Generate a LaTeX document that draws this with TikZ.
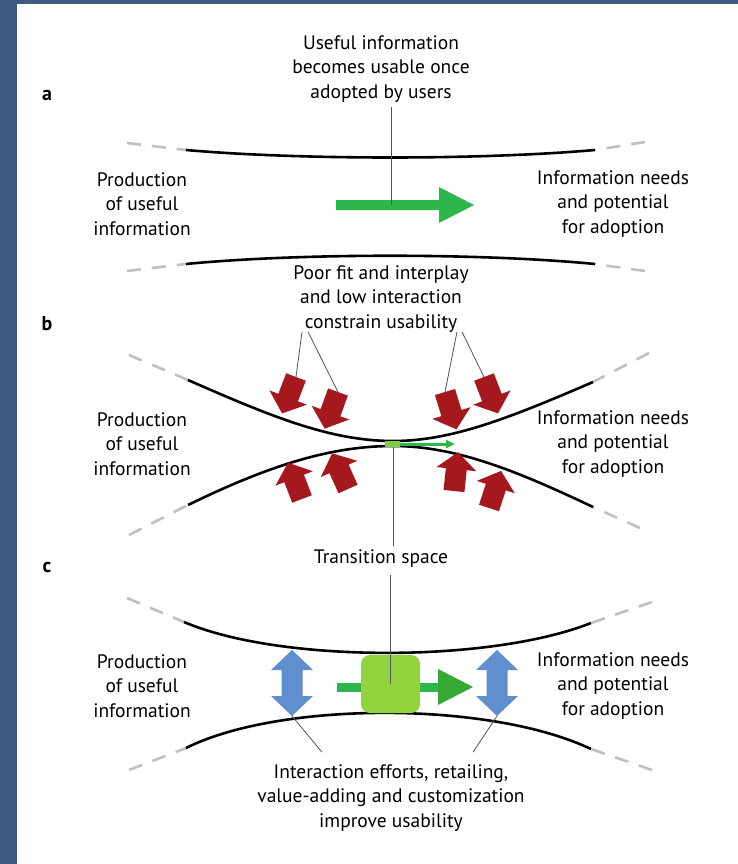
\documentclass[tikz,border=0pt]{standalone}
\usepackage{fontspec}
\setmainfont{PT Sans}
\usetikzlibrary{arrows.meta, positioning}

\definecolor{frameblue}{RGB}{62,90,128}
\definecolor{flowgreen}{RGB}{44,182,76}
\definecolor{headgreen}{RGB}{54,168,52}
\definecolor{boxgreen}{RGB}{146,212,64}
\definecolor{pressred}{RGB}{165,25,30}
\definecolor{effortblue}{RGB}{96,143,208}
\definecolor{dashgray}{RGB}{192,192,192}
\definecolor{pointgray}{RGB}{85,85,85}

\begin{document}
\begin{tikzpicture}[
    x=1pt, y=-1pt,
    font=\fontsize{19.5}{24.7}\selectfont,
    label/.style={align=center, inner sep=1pt},
    panel/.style={inner sep=0pt, font=\fontsize{20}{24}\selectfont\bfseries},
    wall/.style={draw=black, line width=2.6pt},
    fade/.style={draw=dashgray, line width=2.6pt, dash pattern=on 14pt off 11pt},
    pointer/.style={draw=pointgray, line width=0.8pt},
    squeeze/.style={fill=pressred},
    effort/.style={fill=effortblue},
    flow/.style={fill=flowgreen}
]

% frame
\fill[frameblue] (0,0) rectangle (738,864);
\fill[white] (17,4) rectangle (738,864);
\useasboundingbox (0,0) rectangle (738,864);

% ---------- a ----------
\node[panel] at (47,95) {a};
\node[label] (usefulinfo) at (381,69) {Useful information\\becomes usable once\\adopted by users};
\node[label] (prodA) at (142,204) {Production\\of useful\\information};
\node[label] (needsA) at (613,204) {Information needs\\and potential\\for adoption};

\draw[fade] (127,143) -- (186,150);
\draw[fade] (645,142) -- (595,150);
\draw[fade] (127,271) -- (186,264);
\draw[fade] (645,271) -- (595,264);
\draw[wall] (186,150) .. controls (300,160) and (480,160) .. (595,150);
\draw[wall] (186,264) .. controls (300,253) and (480,253) .. (595,264);

\coordinate (aflow) at (391,205);
\fill[flow] (336,200) -- (439,200) -- (439,187) -- (474,205)
    -- (439,223) -- (439,210) -- (336,210) -- cycle;
\draw[pointer, shorten <=3pt] (usefulinfo.south -| aflow) -- (aflow);

% ---------- b ----------
\node[panel] at (47,324) {b};
\node[label] (poorfit) at (381,299) {Poor fit and interplay\\and low interaction\\constrain usability};
\node[label] (prodB) at (142,444) {Production\\of useful\\information};
\node[label] (needsB) at (613,444) {Information needs\\and potential\\for adoption};
\node[label] (transition) at (381,559) {Transition space};

\draw[fade] (129,355) -- (188,380);
\draw[fade] (649,353) -- (593,382);
\draw[fade] (129,535) -- (188,505);
\draw[fade] (640,528) -- (593,507);
\draw[wall] (188,380) .. controls (270,416) and (330,441) .. (393,441)
    .. controls (450,441) and (505,420) .. (593,382);
\draw[wall] (188,505) .. controls (268,466) and (330,446) .. (393,446)
    .. controls (455,446) and (515,470) .. (593,507);

\coordinate (gap) at (393,443);
\draw[pointer, shorten >=3pt] (gap) -- (gap |- transition.north);
\fill[boxgreen!80!flowgreen] (385,441) rectangle (400,447);
\draw[flowgreen, line width=3pt, -{Triangle[length=9pt, width=8pt]}] (400,444) -- (455,444);

\coordinate (tl1) at (296,377);
\coordinate (tl2) at (338,392);
\coordinate (tr1) at (445,392);
\coordinate (tr2) at (484,377);
\coordinate (bl1) at (302,499);
\coordinate (bl2) at (348,489);
\coordinate (br1) at (454,491);
\coordinate (br2) at (489,508);

\draw[pointer] ([xshift=-79pt, yshift=2pt]poorfit.south) -- (tl1);
\draw[pointer] ([xshift=-73pt, yshift=2pt]poorfit.south) -- (tl2);
\draw[pointer] ([xshift=76pt, yshift=2pt]poorfit.south) -- (tr1);
\draw[pointer] ([xshift=81pt, yshift=2pt]poorfit.south) -- (tr2);

\foreach \p/\ang in {tl1/-111, tl2/-110, tr1/-73, tr2/-69,
                     bl1/111, bl2/114, br1/84, br2/72}
  \fill[squeeze, shift={(\p)}, rotate=\ang]
    (0,-10.5) -- (22,-10.5) -- (22,-20) -- (39,0) -- (22,20) -- (22,10.5) -- (0,10.5) -- cycle;

% ---------- c ----------
\node[panel] at (47,567) {c};
\node[label] (prodC) at (142,686) {Production\\of useful\\information};
\node[label] (needsC) at (613,686) {Information needs\\and potential\\for adoption};
\node[label] (efforts) at (391,798) {Interaction efforts, retailing,\\value-adding and customization\\improve usability};

\draw[fade] (127,598) -- (184,622);
\draw[fade] (652,602) -- (591,623);
\draw[fade] (129,770) -- (186,748);
\draw[fade] (652,770) -- (591,749);
\draw[wall] (184,622) .. controls (280,663) and (490,663) .. (591,623);
\draw[wall] (186,748) .. controls (280,701) and (490,701) .. (591,749);

\coordinate (pushl) at (292,716);
\coordinate (pushr) at (497,716);
\draw[pointer] (pushl) -- ([xshift=-69pt, yshift=11pt]efforts.north);
\draw[pointer] (pushr) -- ([xshift=82pt, yshift=11pt]efforts.north);

\foreach \cx in {292, 497}
  \fill[effort, shift={(\cx,683)}]
    (0,-33) -- (21,-13) -- (10.5,-13) -- (10.5,13) -- (21,13) -- (0,33)
    -- (-21,13) -- (-10.5,13) -- (-10.5,-13) -- (-21,-13) -- cycle;

\fill[flow] (337,682.5) rectangle (366,691.5);
\fill[flow] (415,682.5) rectangle (439,691.5);
\fill[headgreen] (438,669) -- (473,687) -- (438,705) -- cycle;
\node[fill=boxgreen, rounded corners=9pt, minimum width=59pt, minimum height=58pt] (tspace) at (390.5,684) {};
\draw[pointer, shorten <=6pt] (transition.south -| tspace) -- (tspace.center);

\end{tikzpicture}
\end{document}
